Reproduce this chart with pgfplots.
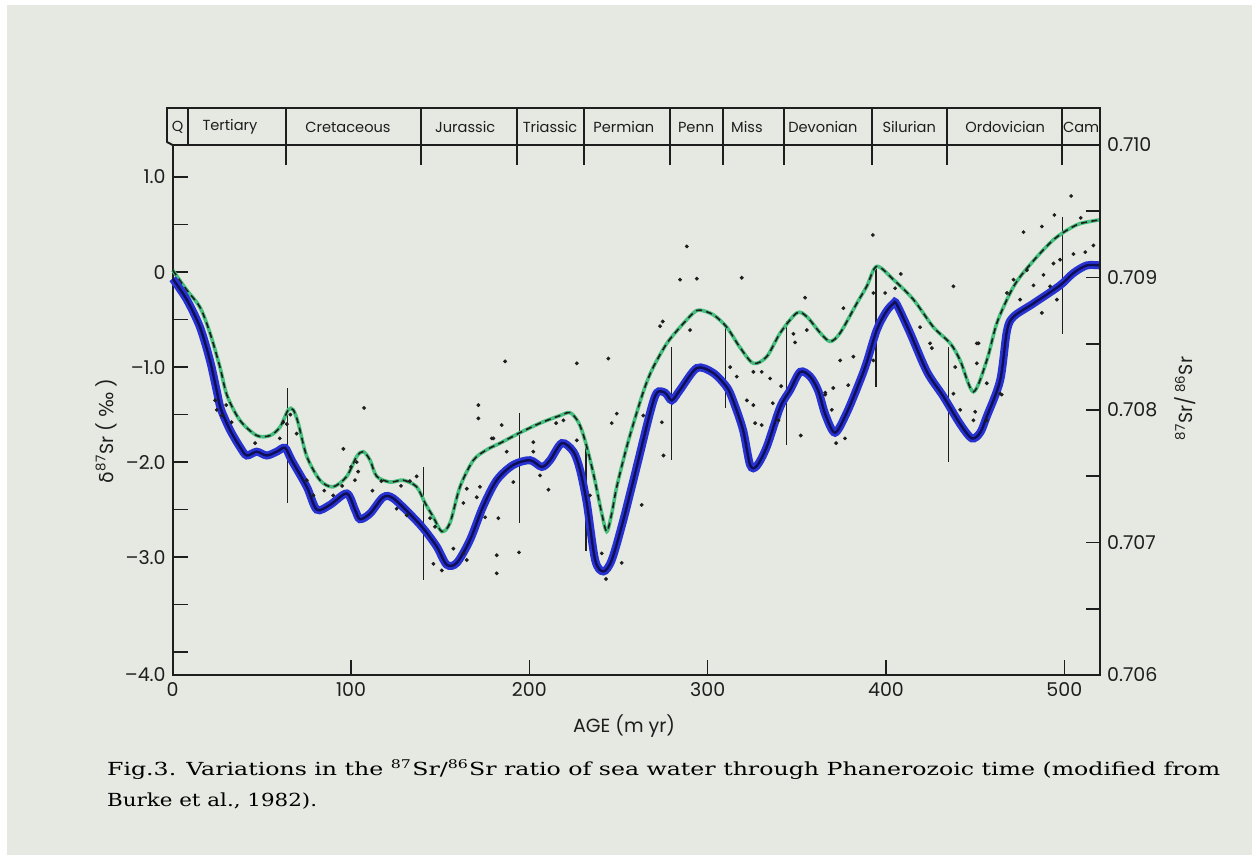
\documentclass[border=0pt]{standalone}
\usepackage{pgfplots}
\pgfplotsset{compat=1.18}
\usepackage{fontspec}
\usepackage{graphicx}
\setmainfont{Poppins}
\newfontfamily\djs{DejaVu Sans}
\newfontfamily\capfont{DejaVu Serif}
\definecolor{paper}{RGB}{229,233,226}
\definecolor{ink}{RGB}{30,30,30}
\definecolor{bluehl}{RGB}{40,50,210}
\definecolor{bluecore}{RGB}{15,15,85}
\definecolor{greenhl}{RGB}{70,190,125}

\pgfplotstableread{
age d
0 -0.07
7.9 -0.29
15.3 -0.58
20.9 -0.93
24.7 -1.25
27 -1.44
32.1 -1.66
37.7 -1.84
41.5 -1.93
47.1 -1.89
52.7 -1.93
58.3 -1.89
63.0 -1.85
66.7 -1.98
75.2 -2.26
80.8 -2.50
88.2 -2.45
97.6 -2.33
102.2 -2.50
105.0 -2.60
110.7 -2.54
118.0 -2.37
123.6 -2.38
134.8 -2.58
141.5 -2.72
148.1 -2.89
153.7 -3.08
159.3 -3.06
166.7 -2.82
174.0 -2.47
181.7 -2.19
190.9 -2.03
200.4 -1.98
207.0 -2.05
211.6 -1.98
218.2 -1.80
224.7 -1.89
228.4 -2.08
232.2 -2.43
236.9 -3.03
241.5 -3.15
246.2 -3.03
252.7 -2.61
260.2 -2.05
267.7 -1.48
271.5 -1.27
276.1 -1.27
279.9 -1.35
284.5 -1.24
293.9 -1.01
303.0 -1.06
310.7 -1.21
314.2 -1.35
319.8 -1.66
323.8 -2.03
327.5 -2.04
333.1 -1.84
340.7 -1.42
346.3 -1.24
351.9 -1.05
357.5 -1.10
362 -1.25
366 -1.50
371.4 -1.69
378.0 -1.48
385.5 -1.14
389.2 -0.95
394.8 -0.61
400 -0.42
404.2 -0.33
406.0 -0.34
413.5 -0.64
423 -1.05
432.2 -1.31
441.6 -1.60
448.1 -1.75
452.8 -1.69
456.5 -1.52
464.0 -1.14
467.8 -0.62
471.5 -0.47
482.7 -0.33
497.6 -0.14
505.1 -0.01
512.6 0.07
520 0.07
}\bluedata

\pgfplotstableread{
age d
0 0.02
7.9 -0.19
15.3 -0.37
20.9 -0.64
26.5 -1.00
30.5 -1.30
37.7 -1.56
47.1 -1.72
54.6 -1.72
60.2 -1.63
64.8 -1.45
67.6 -1.45
70.4 -1.59
75.2 -1.94
82.6 -2.19
89.9 -2.26
97.6 -2.15
103.2 -1.94
106.9 -1.89
110.7 -1.98
114.4 -2.15
121.9 -2.21
129.3 -2.19
136.8 -2.26
141.5 -2.43
146.2 -2.58
150.9 -2.73
155.5 -2.64
161.1 -2.26
168.6 -1.98
176.1 -1.87
183.6 -1.80
194.8 -1.69
206.0 -1.59
217.2 -1.51
222.8 -1.48
227.5 -1.58
231.2 -1.77
235.9 -2.12
240.6 -2.54
243.4 -2.73
246.2 -2.54
249.0 -2.26
254.6 -1.84
260.2 -1.48
265 -1.20
269.5 -1.00
277.1 -0.75
284.5 -0.58
292.0 -0.43
295.7 -0.40
303.2 -0.45
310.7 -0.58
318.0 -0.79
325.6 -0.96
333.1 -0.89
340.7 -0.64
350.0 -0.43
355.6 -0.47
363.1 -0.64
368.7 -0.73
374.3 -0.64
383.6 -0.33
389.2 -0.15
394.8 0.06
404.2 -0.08
415.4 -0.29
426.6 -0.58
436.0 -0.75
441.6 -0.93
449.0 -1.26
456.5 -0.93
462.1 -0.54
469.6 -0.22
475.2 -0.05
484.6 0.16
493.9 0.34
501.4 0.44
508.8 0.51
520 0.55
}\greendata

\pgfplotstableread{
age d
186.4 -0.94
226.6 -0.96
244.3 -0.91
288.3 0.27
284.5 -0.08
293.9 -0.07
319.1 -0.06
354.6 -0.27
392.6 0.39
274.8 -0.52
273.3 -0.57
290.1 -0.61
325.6 -1.05
330.3 -1.05
335 -1.12
376.1 -0.38
381.7 -0.89
374.3 -0.93
378.8 -1.19
370.4 -1.22
365.9 -1.27
312.6 -1.0
316.3 -1.10
348.1 -0.65
349.0 -0.74
355.6 -0.61
107.3 -1.43
171.4 -1.40
171.4 -1.54
178.9 -1.75
95.7 -1.86
46.2 -1.80
62 -1.58
146.2 -3.07
150.9 -3.14
164.9 -3.03
181.7 -3.17
181.7 -2.98
163 -2.96
136.8 -2.15
131.2 -2.56
125.6 -2.49
103.2 -2.0
102.2 -2.19
75.2 -2.19
78.9 -2.35
69.5 -1.70
24.7 -1.45
170.5 -2.37
164.9 -2.28
172.3 -2.26
163 -2.43
144.3 -2.59
147.1 -2.68
157.4 -2.91
194.2 -2.95
182.6 -2.59
175.2 -2.58
179.8 -1.75
184.5 -1.61
187.3 -1.89
191 -2.21
202.2 -1.79
202.2 -1.89
210.7 -2.29
206 -2.14
215 -1.59
219.1 -1.56
226.6 -1.77
234 -2.35
251.8 -3.06
243 -3.23
240.6 -2.96
263 -2.45
249 -1.49
246.2 -1.59
274.3 -1.58
275.2 -1.93
263.9 -1.51
322 -1.35
325.6 -1.40
326.6 -1.59
330.3 -1.61
336.5 -1.38
339.7 -1.56
341.2 -1.20
352.2 -1.72
365.9 -1.29
369.6 -1.45
377 -1.75
372 -1.80
437.8 -0.15
408.3 -0.02
399.5 -0.22
405.1 -0.17
419.1 -0.58
424.7 -0.75
425.7 -0.80
392.9 -0.22
392.9 -0.93
450.9 -0.75
438.8 -1.0
450.9 -0.96
464.9 -1.29
477.1 0.42
487.4 0.48
494.4 0.60
503.8 0.80
509.2 0.57
516.3 0.28
511.7 0.21
505.1 0.19
497.6 0.13
493.9 0.09
488.3 -0.03
492 -0.15
495.8 -0.29
487.4 -0.43
482.7 -0.14
479 0.02
471.5 -0.08
467.8 -0.22
475.2 -0.29
451.9 -0.75
456.5 -1.17
464 -1.28
437.8 -1.28
441.6 -1.45
450 -1.47
449 -1.56
456.5 -1.56
23.8 -1.35
27.7 -1.51
30 -1.40
33 -1.58
60 -1.75
64 -1.60
66 -1.50
85 -2.30
90 -2.35
95 -2.25
100 -2.05
104 -2.10
112 -2.30
117 -2.20
128 -2.25
133 -2.20
}\dotdata

\begin{document}
\begin{tikzpicture}
\fill[white] (0,0) rectangle (626pt,-427.5pt);
\fill[paper] (3.5pt,-2.5pt) rectangle (626pt,-427.5pt);

\begin{axis}[
  at={(86.35pt,-337.5pt)}, anchor=south west,
  scale only axis, width=463.65pt, height=265pt,
  xmin=0, xmax=520, ymin=-4.24, ymax=1.337,
  clip=false,
  axis line style={ink, line width=1pt},
  tick style={ink, line width=0.8pt},
  major tick length=7.5pt, minor tick length=7.5pt,
  tick align=inside,
  xtick={0,100,200,300,400,500}, xticklabels={0,100,200,300,400,500},
  xtick pos=bottom, ytick pos=left,
  ytick={-4,-3,-2,-1,0,1}, yticklabels={,–3.0,–2.0,–1.0,0,1.0},
  minor ytick={-3.5,-2.5,-1.5,-0.5,0.5},
  tick label style={font=\fontsize{9.5}{10}\selectfont, text=ink},
]
% boundary segments
\addplot[ink, line width=0.6pt] coordinates {(64.5,-1.22) (64.5,-2.43)};
\addplot[ink, line width=0.6pt] coordinates {(140.5,-2.05) (140.5,-3.24)};
\addplot[ink, line width=0.6pt] coordinates {(194.4,-1.48) (194.4,-2.64)};
\addplot[ink, line width=0.6pt] coordinates {(231.8,-1.77) (231.8,-2.93)};
\addplot[ink, line width=0.6pt] coordinates {(279.9,-0.79) (279.9,-1.98)};
\addplot[ink, line width=0.6pt] coordinates {(309.8,-0.58) (309.8,-1.43)};
\addplot[ink, line width=0.6pt] coordinates {(344.0,-0.52) (344.0,-1.82)};
\addplot[ink, line width=0.6pt] coordinates {(394.4,0.06) (394.4,-1.21)};
\addplot[ink, line width=0.6pt] coordinates {(435.0,-0.79) (435.0,-2.00)};
\addplot[ink, line width=0.6pt] coordinates {(498.9,0.58) (498.9,-0.65)};
% dots
\addplot[only marks, mark=*, mark size=0.75pt, ink] table[x=age,y=d] {\dotdata};
% green highlight + dashed
\addplot[greenhl, line width=1.8pt, smooth] table[x=age,y=d] {\greendata};
\addplot[ink, line width=0.8pt, dash pattern=on 3pt off 2.2pt, smooth] table[x=age,y=d] {\greendata};
% blue
\addplot[bluehl, line width=4pt, smooth] table[x=age,y=d] {\bluedata};
\addplot[bluecore, line width=1.2pt, smooth] table[x=age,y=d] {\bluedata};

% header
\draw[ink, line width=1pt] (axis cs:-3.4,1.37) -- (axis cs:-3.4,1.726) -- (axis cs:520,1.726) -- (axis cs:520,1.337);
\draw[ink, line width=1pt] (axis cs:-3.4,1.37) -- (axis cs:0,1.337);
\draw[ink, line width=1pt] (axis cs:8.75,1.726) -- (axis cs:8.75,1.337);
\draw[ink, line width=1pt] (axis cs:63.4,1.726) -- (axis cs:63.4,1.126);
\draw[ink, line width=1pt] (axis cs:139,1.726) -- (axis cs:139,1.126);
\draw[ink, line width=1pt] (axis cs:193,1.726) -- (axis cs:193,1.126);
\draw[ink, line width=1pt] (axis cs:230.7,1.726) -- (axis cs:230.7,1.126);
\draw[ink, line width=1pt] (axis cs:279,1.726) -- (axis cs:279,1.126);
\draw[ink, line width=1pt] (axis cs:308.7,1.726) -- (axis cs:308.7,1.126);
\draw[ink, line width=1pt] (axis cs:343,1.726) -- (axis cs:343,1.126);
\draw[ink, line width=1pt] (axis cs:392,1.726) -- (axis cs:392,1.126);
\draw[ink, line width=1pt] (axis cs:434,1.726) -- (axis cs:434,1.126);
\draw[ink, line width=1pt] (axis cs:498.6,1.726) -- (axis cs:498.6,1.126);
\node[font=\fontsize{7.3}{9}\selectfont, text=ink, inner sep=0pt] at (axis cs:2.8,1.526) {Q};
\node[font=\fontsize{7.3}{9}\selectfont, text=ink, inner sep=0pt] at (axis cs:32.1,1.526) {Tertiary};
\node[font=\fontsize{7.3}{9}\selectfont, text=ink, inner sep=0pt] at (axis cs:98.3,1.526) {Cretaceous};
\node[font=\fontsize{7.3}{9}\selectfont, text=ink, inner sep=0pt] at (axis cs:164,1.526) {Jurassic};
\node[font=\fontsize{7.3}{9}\selectfont, text=ink, inner sep=0pt] at (axis cs:211.6,1.526) {Triassic};
\node[font=\fontsize{7.3}{9}\selectfont, text=ink, inner sep=0pt] at (axis cs:253,1.526) {Permian};
\node[font=\fontsize{7.3}{9}\selectfont, text=ink, inner sep=0pt] at (axis cs:293.5,1.526) {Penn};
\node[font=\fontsize{7.3}{9}\selectfont, text=ink, inner sep=0pt] at (axis cs:322,1.526) {Miss};
\node[font=\fontsize{7.3}{9}\selectfont, text=ink, inner sep=0pt] at (axis cs:364.6,1.526) {Devonian};
\node[font=\fontsize{7.3}{9}\selectfont, text=ink, inner sep=0pt] at (axis cs:413,1.526) {Silurian};
\node[font=\fontsize{7.3}{9}\selectfont, text=ink, inner sep=0pt] at (axis cs:466.8,1.526) {Ordovician};
\node[font=\fontsize{7.3}{9}\selectfont, text=ink, inner sep=0pt] at (axis cs:509.4,1.526) {Cam};
% axis labels
\node[anchor=east, font=\fontsize{9.5}{10}\selectfont, text=ink] at (axis cs:0,-4.24) {–4.0};
\node[rotate=90, font=\fontsize{9.5}{10}\selectfont, text=ink] at (axis cs:-37.4,-1.67) {{\djs δ}\textsuperscript{87}Sr ( {\djs ‰} )};
\node[rotate=90, font=\fontsize{9.5}{10}\selectfont, text=ink] at (axis cs:567.7,-1.33) {\textsuperscript{87}Sr/\,\textsuperscript{86}Sr};
\node[font=\fontsize{9.5}{10}\selectfont, text=ink] at (axis cs:253.1,-4.78) {AGE (m yr)};
\end{axis}

\begin{axis}[
  at={(86.35pt,-337.5pt)}, anchor=south west,
  scale only axis, width=463.65pt, height=265pt,
  xmin=0, xmax=520, ymin=0.706, ymax=0.710,
  axis x line=none, axis y line*=right,
  axis line style={ink, line width=1pt},
  tick style={ink, line width=0.8pt},
  major tick length=7pt,
  tick align=inside,
  ytick={0.706,0.7065,0.707,0.7075,0.708,0.7085,0.709,0.7095,0.710},
  yticklabels={0.706,,0.707,,0.708,,0.709,,0.710},
  yticklabel style={anchor=west, font=\fontsize{9.5}{10}\selectfont, text=ink},
]
\end{axis}

\node[anchor=base west, text=black, inner sep=0pt] at (53.35pt,-387.85pt)
  {\resizebox{556.6pt}{\height}{\capfont\fontsize{9}{10}\selectfont Fig.3. Variations in the \textsuperscript{87}Sr/\textsuperscript{86}Sr ratio of sea water through Phanerozoic time (modified from}};
\node[anchor=base west, text=black, inner sep=0pt] at (53.35pt,-403.35pt)
  {\resizebox{105pt}{\height}{\capfont\fontsize{9}{10}\selectfont Burke et al., 1982).}};

\pgfresetboundingbox
\useasboundingbox (0,0) rectangle (626pt,-427.5pt);
\end{tikzpicture}
\end{document}
